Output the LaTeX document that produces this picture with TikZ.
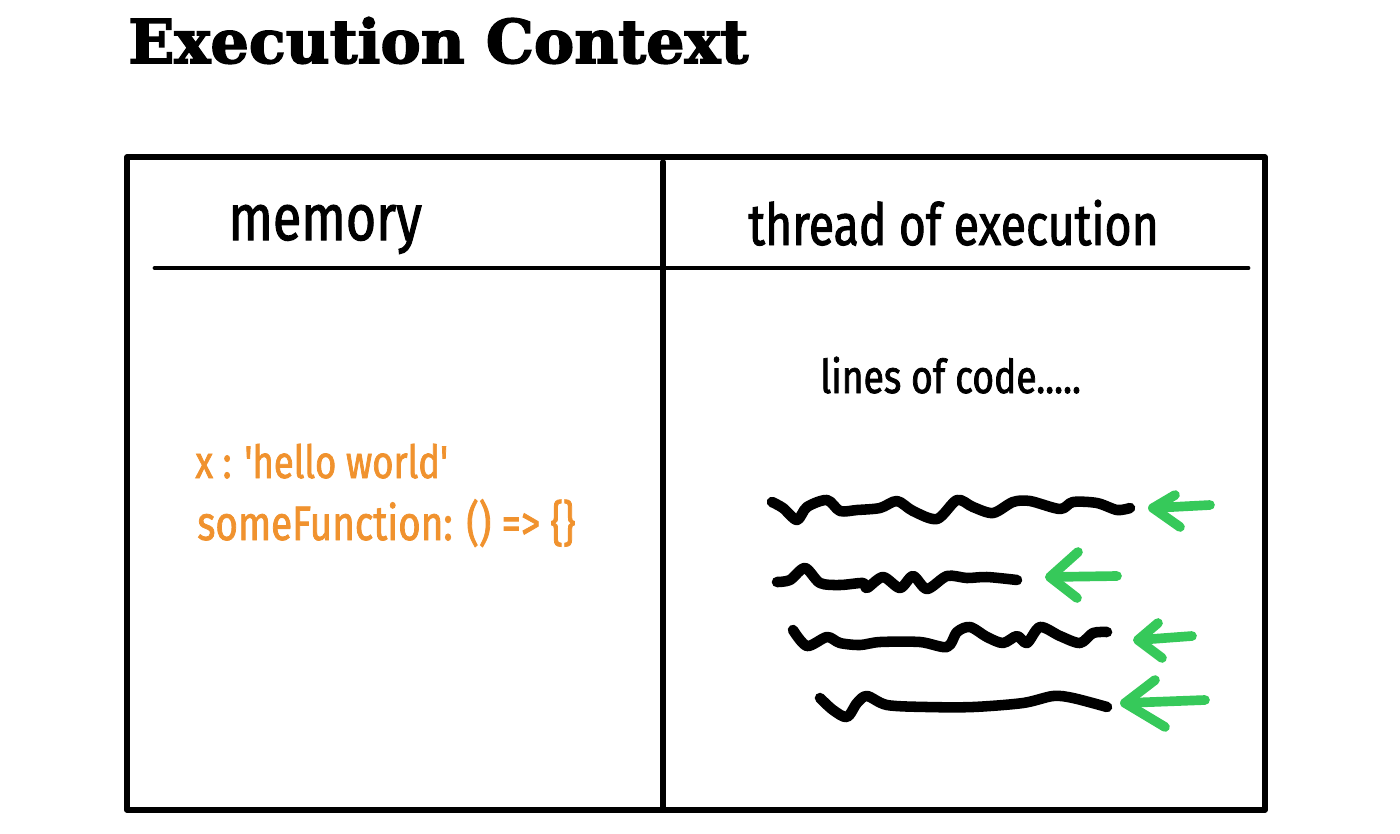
\documentclass[tikz,border=0pt]{standalone}
\usepackage{fontspec}
\usepackage{tikz}
\newfontfamily\titlefont[FakeBold=2.5]{DejaVu Serif}
\newfontfamily\handfont[FakeStretch=0.8, FakeBold=1.6]{Fira Sans}
\definecolor{memorange}{RGB}{240,146,46}
\definecolor{arrowgreen}{RGB}{54,201,90}
\tikzstyle{frame} = [line width=3.3pt, line join=round, line cap=round]
\tikzstyle{rule} = [line width=2.8pt, line cap=round]
\tikzstyle{heading} = [inner sep=0pt, anchor=base west, font=\handfont]
\tikzstyle{memtext} = [inner sep=0pt, anchor=base west, text=memorange, font=\handfont\fontsize{26}{30}\selectfont]
\tikzstyle{squiggle} = [line width=6pt, line cap=round, line join=round]
\tikzstyle{pointer} = [arrowgreen, line width=5.5pt, line cap=round, line join=round]
\newcommand{\codepointer}[4]{
	\draw[pointer] (#3) -- (#1) -- (#4);
	\draw[pointer] (#1) -- (#2);
}
\begin{document}
\begin{tikzpicture}[x=0.02cm, y=-0.02cm]
	\useasboundingbox (0,0) rectangle (1400,833);

	\node(title) at (128,63) [inner sep=0pt, anchor=base west, font=\titlefont\bfseries\fontsize{34.4}{38}\selectfont] {Execution Context};

	\draw[frame] (127,157) rectangle (1265,810);
	\draw[frame] (663,162) -- (663,808);
	\draw[rule] (155,268) -- (1248,268);

	\node(memory) at (228,240) [heading, font=\handfont\fontsize{37}{40}\selectfont] {memory};
	\node(thread) at (748,245) [heading, font=\handfont\fontsize{33}{38}\selectfont] {thread of execution};
	\node(lines) at (820,393) [heading, font=\handfont\fontsize{26.5}{30}\selectfont] {lines of code.....};

	\node(varx) at (195,478) [memtext] {x : 'hello world'};
	\node(varfn) at (197,540) [memtext, font=\handfont\fontsize{27.5}{30}\selectfont] {someFunction: () => \{\}};

	% lines of code
	\draw[squiggle] plot[smooth, tension=0.5] coordinates {(772,502) (783,508) (797,520) (807,507) (827,500) (840,511) (857,510) (880,508) (897,501) (913,511) (937,519) (957,500) (973,507) (993,513) (1013,502) (1030,501) (1060,509) (1073,502) (1097,503) (1117,510) (1130,508)};
	\draw[squiggle] plot[smooth, tension=0.5] coordinates {(777,582) (790,580) (805,568) (820,583) (840,585) (863,583) (867,588) (883,577) (900,588) (913,576) (927,589) (947,576) (967,578) (987,577) (1017,580)};
	\draw[squiggle] plot[smooth, tension=0.5] coordinates {(793,630) (807,646) (827,637) (840,643) (860,645) (880,642) (920,642) (947,647) (957,632) (970,627) (987,637) (1003,643) (1017,636) (1027,643) (1040,627) (1060,636) (1080,643) (1093,633) (1107,632)};
	\draw[squiggle] plot[smooth, tension=0.5] coordinates {(820,698) (833,710) (847,717) (857,703) (867,696) (887,705) (927,707) (973,707) (1023,703) (1053,696) (1073,698) (1107,707)};

	% pointers
	\coordinate (tipA) at (1153,508);
	\coordinate (endA) at (1210,505);
	\coordinate (upA) at (1175,495);
	\coordinate (lowA) at (1180,527);
	\codepointer{tipA}{endA}{upA}{lowA}

	\coordinate (tipB) at (1050,577);
	\coordinate (endB) at (1117,576);
	\coordinate (upB) at (1078,552);
	\coordinate (lowB) at (1077,598);
	\codepointer{tipB}{endB}{upB}{lowB}

	\coordinate (tipC) at (1138,640);
	\coordinate (endC) at (1192,636);
	\coordinate (upC) at (1158,623);
	\coordinate (lowC) at (1162,658);
	\codepointer{tipC}{endC}{upC}{lowC}

	\coordinate (tipD) at (1125,703);
	\coordinate (endD) at (1205,700);
	\coordinate (upD) at (1155,680);
	\coordinate (lowD) at (1165,727);
	\codepointer{tipD}{endD}{upD}{lowD}
\end{tikzpicture}
\end{document}
